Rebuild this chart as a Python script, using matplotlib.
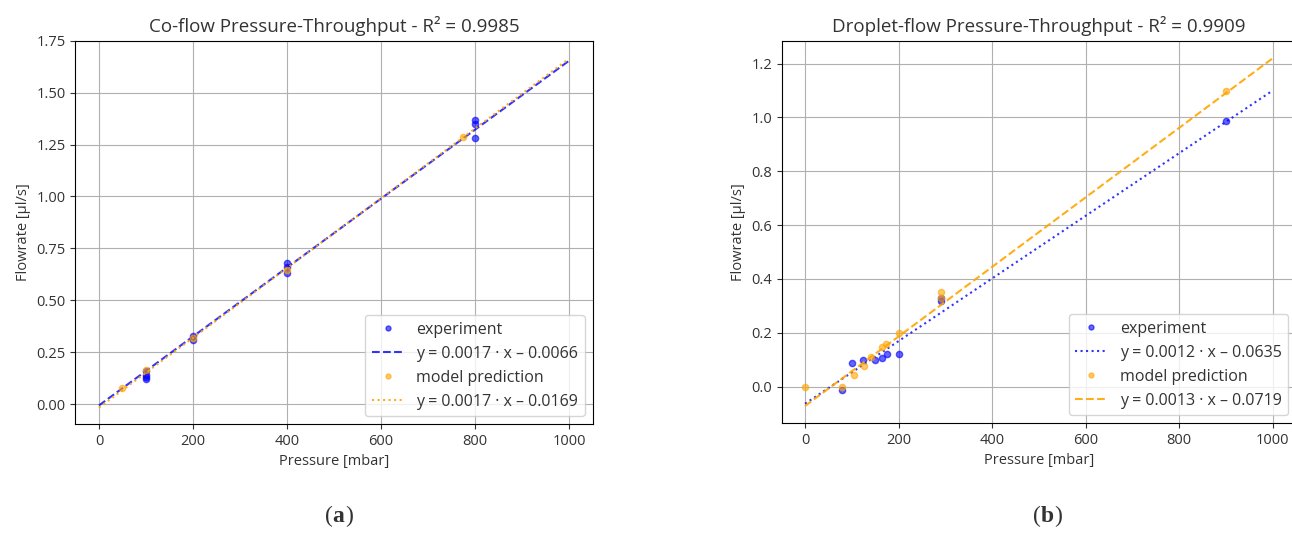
import numpy as np
import matplotlib
matplotlib.use("Agg")
import matplotlib.pyplot as plt

plt.rcParams['font.family'] = ['Open Sans', 'DejaVu Sans']
plt.rcParams['text.color'] = '#333333'
plt.rcParams['axes.labelcolor'] = '#333333'
plt.rcParams['xtick.color'] = '#333333'
plt.rcParams['ytick.color'] = '#333333'

# (a) co-flow data
co_exp_p = [100, 100, 100, 100, 200, 200, 400, 400, 400, 800, 800, 800]
co_exp_q = [0.12, 0.13, 0.14, 0.16, 0.31, 0.33, 0.63, 0.66, 0.68, 1.28, 1.35, 1.37]
co_mod_p = [50, 100, 200, 400, 775]
co_mod_q = [0.076, 0.164, 0.32, 0.645, 1.284]
co_exp_fit = (0.00166, -0.0066)
co_mod_fit = (0.00168, -0.0169)
co_r2 = 0.9985

# (b) droplet-flow data
dr_exp_p = [80, 100, 125, 150, 164, 175, 200, 290, 290, 900]
dr_exp_q = [-0.012, 0.086, 0.10, 0.10, 0.108, 0.12, 0.121, 0.32, 0.33, 0.988]
dr_mod_p = [0, 80, 105, 126, 142, 164, 173, 200, 290, 290, 900]
dr_mod_q = [0.0, 0.0, 0.042, 0.078, 0.11, 0.148, 0.16, 0.198, 0.33, 0.35, 1.099]
dr_exp_fit = (0.001163, -0.0635)
dr_mod_fit = (0.001291, -0.0719)
dr_r2 = 0.9909


def fit_label(fit):
    m, b = fit
    sign = '–' if b < 0 else '+'
    return f'y = {m:.4f} · x {sign} {abs(b):.4f}'


def draw_panel(ax, exp_p, exp_q, mod_p, mod_q, exp_fit, mod_fit, exp_ls, mod_ls, title):
    xs = np.array([0, 1000])
    ax.plot(exp_p, exp_q, 'o', color='blue', ms=4.5, alpha=0.6, label='experiment')
    ax.plot(xs, exp_fit[0] * xs + exp_fit[1], ls=exp_ls, color='blue', alpha=0.8,
            lw=1.5, label=fit_label(exp_fit))
    ax.plot(mod_p, mod_q, 'o', color='orange', ms=4.5, alpha=0.6, label='model prediction')
    ax.plot(xs, mod_fit[0] * xs + mod_fit[1], ls=mod_ls, color='orange', alpha=0.9,
            lw=1.5, label=fit_label(mod_fit))
    ax.grid(True)
    ax.set_xlabel('Pressure [mbar]', fontsize=10.5)
    ax.set_ylabel('Flowrate [µl/s]', fontsize=10.5)
    ax.set_title(title, fontsize=13.5)
    ax.tick_params(labelsize=10.5)
    ax.legend(loc='lower right', fontsize=11.5, markerscale=0.8)


fig = plt.figure(figsize=(12.92, 5.37), dpi=100)
ax1 = fig.add_axes([0.0584, 0.2104, 0.4002, 0.7138])
ax2 = fig.add_axes([0.605, 0.2123, 0.398, 0.7119])

draw_panel(ax1, co_exp_p, co_exp_q, co_mod_p, co_mod_q, co_exp_fit, co_mod_fit,
           '--', ':', f'Co-flow Pressure-Throughput - R² = {co_r2}')
ax1.set_xlim(-50, 1050)
ax1.set_ylim(-0.096, 1.75)
ax1.set_yticks(np.arange(0, 1.76, 0.25))

draw_panel(ax2, dr_exp_p, dr_exp_q, dr_mod_p, dr_mod_q, dr_exp_fit, dr_mod_fit,
           ':', '--', f'Droplet-flow Pressure-Throughput - R² = {dr_r2}')
ax2.set_xlim(-50, 1050)
ax2.set_ylim(-0.135, 1.285)

fig.text(0.2575, 0.028, '(', family='Liberation Serif', fontsize=17, ha='right')
fig.text(0.2575, 0.028, 'a', family='Liberation Serif', fontsize=17, fontweight='bold', ha='left')
fig.text(0.2675, 0.028, ')', family='Liberation Serif', fontsize=17, ha='left')
fig.text(0.8055, 0.028, '(', family='Liberation Serif', fontsize=17, ha='right')
fig.text(0.8055, 0.028, 'b', family='Liberation Serif', fontsize=17, fontweight='bold', ha='left')
fig.text(0.8160, 0.028, ')', family='Liberation Serif', fontsize=17, ha='left')

fig.savefig('out.png', dpi=100)
